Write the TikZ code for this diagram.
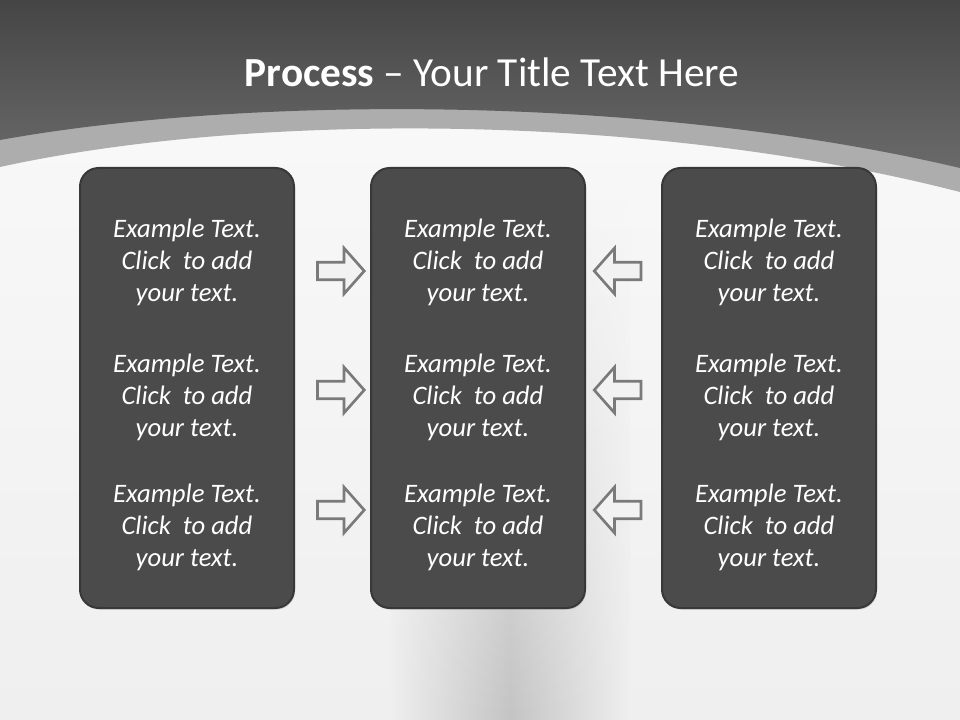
\documentclass[tikz,border=0pt]{standalone}
\usepackage{fontspec}
\setmainfont{Carlito}
\usepackage{tikz}
\usetikzlibrary{shapes.arrows, positioning, shadows, fadings}

\definecolor{topdark}{HTML}{454545}
\definecolor{toplight}{HTML}{6A6A6A}
\definecolor{bandgray}{HTML}{ADADAD}
\definecolor{bgtop}{HTML}{FAFAFA}
\definecolor{bgbottom}{HTML}{EFEFEF}
\definecolor{columngray}{HTML}{C4C4C4}
\definecolor{panelfill}{HTML}{4B4B4B}
\definecolor{panelline}{HTML}{383838}
\definecolor{arrowline}{HTML}{7A7A7A}
\definecolor{arrowfill}{HTML}{F2F2F2}

\newcommand{\sampletext}{Example Text.\\Click~ to add\\your text.}

\begin{document}
\begin{tikzpicture}[x=0.75pt, y=-0.75pt, on grid, node distance=218.25pt,
    panel/.style={draw=panelline, fill=panelfill, line width=1.5pt, rounded corners=14pt,
      minimum width=160.5pt, minimum height=330pt,
      drop shadow={opacity=0.3, shadow xshift=0.8pt, shadow yshift=-1.2pt}},
    note/.style={text=white, font=\itshape\fontsize{20}{24}\selectfont, align=center},
    fwd/.style={single arrow, draw=arrowline, fill=arrowfill, line width=2pt,
      inner sep=5.6pt, minimum height=35pt, single arrow head extend=10.5pt,
      single arrow tip angle=97},
    back/.style={fwd, shape border rotate=180}]
  \useasboundingbox (0,0) rectangle (960,720);
  % background
  \shade[top color=bgtop, bottom color=bgbottom] (0,0) rectangle (960,720);
  \shade[left color=bgbottom, right color=bgbottom, middle color=columngray, path fading=north]
    (390,200) rectangle (630,720);
  \fill[bandgray] (0,0) -- (960,0) -- (960,192) .. controls (650,112) and (250,112) .. (0,167) -- cycle;
  \shade[top color=topdark, bottom color=toplight]
    (0,0) -- (960,0) -- (960,168) .. controls (650,95) and (250,95) .. (0,140) -- cycle;

  \node[text=white, font=\fontsize{31}{37}\selectfont, anchor=base] (title) at (492,87)
    {\textbf{Process} \textendash{} Your Title Text Here};

  % panels
  \node[panel]                 (src) at (187,388) {};
  \node[panel, right=of src]   (hub)              {};
  \node[panel, right=of hub]   (snk)              {};

  \node[note] (src_1) at (187,262) {\sampletext};
  \node[note] (src_2) at (187,397) {\sampletext};
  \node[note] (src_3) at (187,527) {\sampletext};
  \node[note] (hub_1) at (478,262) {\sampletext};
  \node[note] (hub_2) at (478,397) {\sampletext};
  \node[note] (hub_3) at (478,527) {\sampletext};
  \node[note] (snk_1) at (769,262) {\sampletext};
  \node[note] (snk_2) at (769,397) {\sampletext};
  \node[note] (snk_3) at (769,527) {\sampletext};

  % arrows
  \node[fwd]  (f_1) at (337,271) {};
  \node[fwd]  (f_2) at (337,390) {};
  \node[fwd]  (f_3) at (337,510) {};
  \node[back] (b_1) at (621.5,271) {};
  \node[back] (b_2) at (621.5,390) {};
  \node[back] (b_3) at (621.5,510) {};
\end{tikzpicture}
\end{document}
